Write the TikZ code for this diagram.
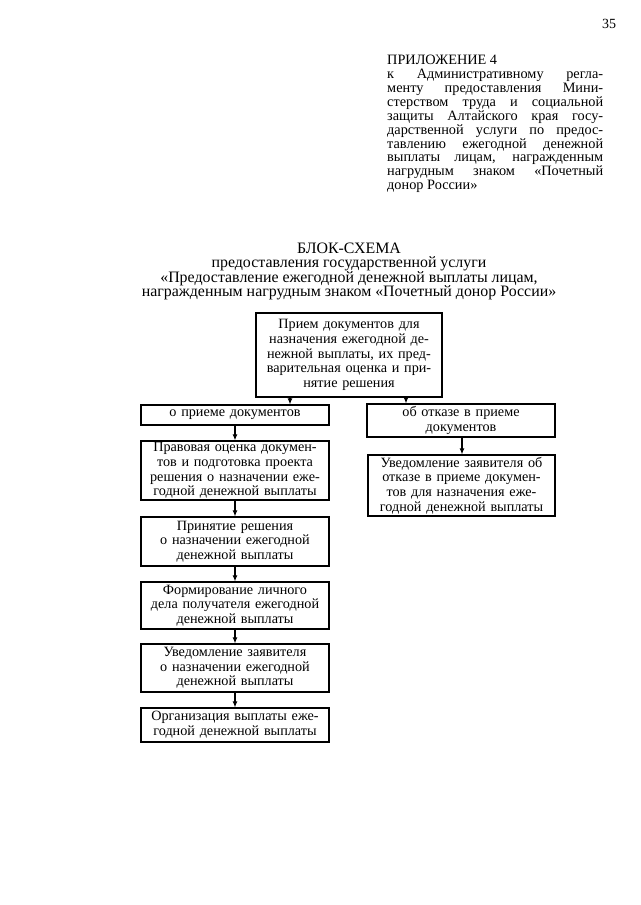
\documentclass[tikz,border=0pt]{standalone}
\usepackage{fontspec}
\setmainfont{Liberation Serif}
\usetikzlibrary{arrows.meta}
\tikzset{
  box/.style={draw, line width=1.2pt, rectangle, inner sep=1.5pt, align=center,
    font=\fontsize{14.2}{14.7}\selectfont},
  arr/.style={line width=1.1pt, -{Latex[length=6pt,width=5pt]}},
  txt/.style={inner sep=0pt, align=center}
}
\begin{document}
\begin{tikzpicture}[x=1pt,y=-1pt]
\useasboundingbox[fill=white] (0,0) rectangle (640,905);
% page number
\node[txt, font=\fontsize{14}{14}\selectfont] (pg) at (609,24) {35};
% header
\node[anchor=north west, inner sep=0pt] (hdr) at (387,55) {\parbox{216pt}{\fontsize{14.3}{13.9}\selectfont
ПРИЛОЖЕНИЕ 4\\
к Административному регла-\linebreak
менту предоставления Мини-\linebreak
стерством труда и социальной\linebreak
защиты Алтайского края госу-\linebreak
дарственной услуги по предос-\linebreak
тавлению ежегодной денежной\linebreak
выплаты лицам, награжденным\linebreak
нагрудным знаком «Почетный\linebreak
донор России»}};
% title
\node[txt, font=\fontsize{15.9}{14.6}\selectfont] (title) at (349,271.5) {БЛОК-СХЕМА\\
предоставления государственной услуги\\
«Предоставление ежегодной денежной выплаты лицам,\\
награжденным нагрудным знаком «Почетный донор России»};
% boxes
\node[box, minimum width=186pt, minimum height=84pt, text width=182pt] (top) at (349,355) {Прием документов для\\ назначения ежегодной де-\\ нежной выплаты, их пред-\\ варительная оценка и при-\\ нятие решения};
\node[box, minimum width=188pt, minimum height=20pt, text width=184pt] (priem) at (235,415) {о приеме документов};
\node[box, minimum width=188pt, minimum height=33pt, text width=184pt] (otkaz) at (461,420.5) {об отказе в приеме\\ документов};
\node[box, minimum width=188pt, minimum height=59pt, text width=184pt] (pravo) at (235,470.5) {Правовая оценка докумен-\\ тов и подготовка проекта\\ решения о назначении еже-\\ годной денежной выплаты};
\node[box, minimum width=187pt, minimum height=61pt, text width=183pt] (uvotk) at (461.5,485.5) {Уведомление заявителя об\\ отказе в приеме докумен-\\ тов для назначения еже-\\ годной денежной выплаты};
\node[box, minimum width=188pt, minimum height=49pt, text width=184pt] (prin) at (235,541.5) {Принятие решения\\ о назначении ежегодной\\ денежной выплаты};
\node[box, minimum width=188pt, minimum height=47pt, text width=184pt] (form) at (235,605.5) {Формирование личного\\ дела получателя ежегодной\\ денежной выплаты};
\node[box, minimum width=188pt, minimum height=48pt, text width=184pt] (uved) at (235,668) {Уведомление заявителя\\ о назначении ежегодной\\ денежной выплаты};
\node[box, minimum width=188pt, minimum height=34pt, text width=184pt] (org) at (235,725) {Организация выплаты еже-\\ годной денежной выплаты};
% connectors
\coordinate (xl) at (290,0);
\coordinate (xr) at (406,0);
\coordinate (xo) at (462,0);
\draw[arr] (xl |- top.south) -- (xl |- priem.north);
\draw[arr] (xr |- top.south) -- (xr |- otkaz.north);
\draw[arr] (otkaz.south -| xo) -- (uvotk.north -| xo);
\draw[arr] (priem.south) -- (pravo.north);
\draw[arr] (pravo.south) -- (prin.north);
\draw[arr] (prin.south) -- (form.north);
\draw[arr] (form.south) -- (uved.north);
\draw[arr] (uved.south) -- (org.north);
\end{tikzpicture}
\end{document}
